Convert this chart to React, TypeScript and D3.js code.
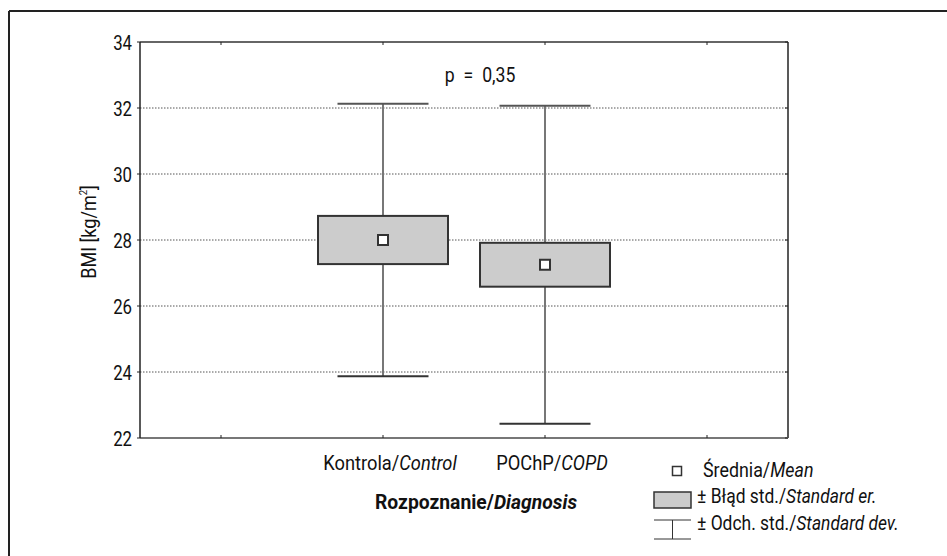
import { scaleBand, scaleLinear } from "d3";
import type { ReactNode } from "react";

const groups = ["Kontrola", "POChP"];
const groupsEn = ["Control", "COPD"];
const means = [28.0, 27.25];
const stdErr = [0.73, 0.665];
const stdDev = [4.13, 4.82];
const yTicks = [22, 24, 26, 28, 30, 32, 34];
const gridTicks = [24, 26, 28, 30, 32];
const pLabel = "p = 0,35";

const FONT = "Roboto, 'DejaVu Sans', sans-serif";

// Roboto squeezed horizontally, to get near the condensed face of the original
const T = ({ x, y, anchor = "start", size = 21, sx = 0.84, weight, children }: {
  x: number; y: number; anchor?: string; size?: number; sx?: number; weight?: string; children: ReactNode;
}) => (
  <text
    transform={`translate(${x},${y}) scale(${sx},1)`}
    textAnchor={anchor}
    fontSize={size}
    fontWeight={weight}
    fill="#111"
  >
    {children}
  </text>
);

const App = () => {
  const W = 947;
  const H = 556;
  const left = 140, right = 788, top = 42, bottom = 438;

  const y = scaleLinear().domain([22, 34]).range([bottom, top]);
  // 4 slots on the x axis, the two groups sit in the middle ones
  const x = scaleBand<string>()
    .domain(["_a", ...groups, "_b"])
    .range([left, right]);
  const cx = (d: string) => (x(d) as number) + x.bandwidth() / 2;

  const boxW = 130;
  const capW = 91;

  return (
    <svg width={W} height={H} style={{ position: "absolute", left: 0, top: 0 }} fontFamily={FONT}>
      <rect x={0} y={0} width={W} height={H} fill="#fff" />
      {/* outer frame */}
      <line x1={9} y1={11} x2={W} y2={11} stroke="#222" strokeWidth={2} />
      <line x1={9} y1={11} x2={9} y2={H} stroke="#222" strokeWidth={2} />

      {/* grid */}
      {gridTicks.map((t) => (
        <line key={t} x1={left} x2={right} y1={y(t)} y2={y(t)} stroke="#555" strokeDasharray="1.5,1.5" strokeWidth={1} />
      ))}

      {/* plot frame */}
      <line x1={left} x2={right} y1={top} y2={top} stroke="#333" strokeWidth={1.5} />
      <line x1={right} x2={right} y1={top} y2={bottom} stroke="#222" strokeWidth={1.5} />
      <line x1={left} x2={right} y1={bottom} y2={bottom} stroke="#777" strokeWidth={2} />
      <line x1={left} x2={left} y1={top} y2={bottom} stroke="#222" strokeWidth={1.5} />

      {/* y ticks */}
      {yTicks.map((t) => (
        <g key={t}>
          <line x1={left - 3} x2={left} y1={y(t)} y2={y(t)} stroke="#222" />
          <line x1={right - 3} x2={right} y1={y(t)} y2={y(t)} stroke="#222" />
          <T x={left - 8} y={y(t) + 7.5} anchor="end" size={21} sx={0.8}>{t}</T>
        </g>
      ))}

      {/* x ticks top and bottom */}
      {x.domain().map((d) => (
        <g key={d}>
          <line x1={cx(d)} x2={cx(d)} y1={bottom} y2={bottom - 3} stroke="#222" />
          <line x1={cx(d)} x2={cx(d)} y1={top} y2={top + 3} stroke="#222" />
        </g>
      ))}

      {/* whiskers (sd) and boxes (se) */}
      {groups.map((g, i) => {
        const c = cx(g);
        const hi = means[i] + stdDev[i];
        const lo = means[i] - stdDev[i];
        const bt = y(means[i] + stdErr[i]);
        const bb = y(means[i] - stdErr[i]);
        return (
          <g key={g}>
            <line x1={c} x2={c} y1={y(hi)} y2={y(lo)} stroke="#777" strokeWidth={2} />
            <line x1={c - capW / 2} x2={c + capW / 2} y1={y(hi)} y2={y(hi)} stroke="#555" strokeWidth={2} />
            <line x1={c - capW / 2} x2={c + capW / 2} y1={y(lo)} y2={y(lo)} stroke="#333" strokeWidth={2} />
            <rect x={c - boxW / 2} y={bt} width={boxW} height={bb - bt} fill="#cccccc" stroke="#333" strokeWidth={2} />
            <rect x={c - 5} y={y(means[i]) - 5} width={10} height={10} fill="#fff" stroke="#333" strokeWidth={2} />
          </g>
        );
      })}

      {/* category labels */}
      {groups.map((g, i) => (
        <T key={g} x={cx(g) + 7} y={470} anchor="middle" sx={0.87}>
          {g}/<tspan fontStyle="italic">{groupsEn[i]}</tspan>
        </T>
      ))}

      <T x={476} y={509} anchor="middle" weight="bold" sx={0.92}>
        Rozpoznanie/<tspan fontStyle="italic">Diagnosis</tspan>
      </T>

      <T x={480} y={82} anchor="middle">{pLabel.replace(/ /g, "\u2002")}</T>

      <g transform="translate(96,232) rotate(-90)">
        <T x={0} y={0} anchor="middle" sx={0.86}>
          BMI [kg/m<tspan fontSize={11} dy={-9}>2</tspan><tspan dy={9}>]</tspan>
        </T>
      </g>

      {/* legend */}
      <rect x={677 - 4.5} y={471 - 4.5} width={9} height={9} fill="#fff" stroke="#333" strokeWidth={1.5} />
      <T x={703} y={477} sx={0.85}>
        Średnia/<tspan fontStyle="italic">Mean</tspan>
      </T>
      <rect x={654} y={492} width={37} height={16} fill="#cccccc" stroke="#333" strokeWidth={1.5} />
      <T x={697} y={503} sx={0.83}>
        ± Błąd std./<tspan fontStyle="italic">Standard er.</tspan>
      </T>
      <line x1={654} x2={691} y1={520} y2={520} stroke="#333" strokeWidth={1} />
      <line x1={654} x2={691} y1={539} y2={539} stroke="#333" strokeWidth={1} />
      <line x1={672.5} x2={672.5} y1={520} y2={539} stroke="#333" strokeWidth={1} />
      <T x={697} y={530} sx={0.83}>
        ± Odch. std./<tspan fontStyle="italic">Standard dev.</tspan>
      </T>
    </svg>
  );
};

export default App;
